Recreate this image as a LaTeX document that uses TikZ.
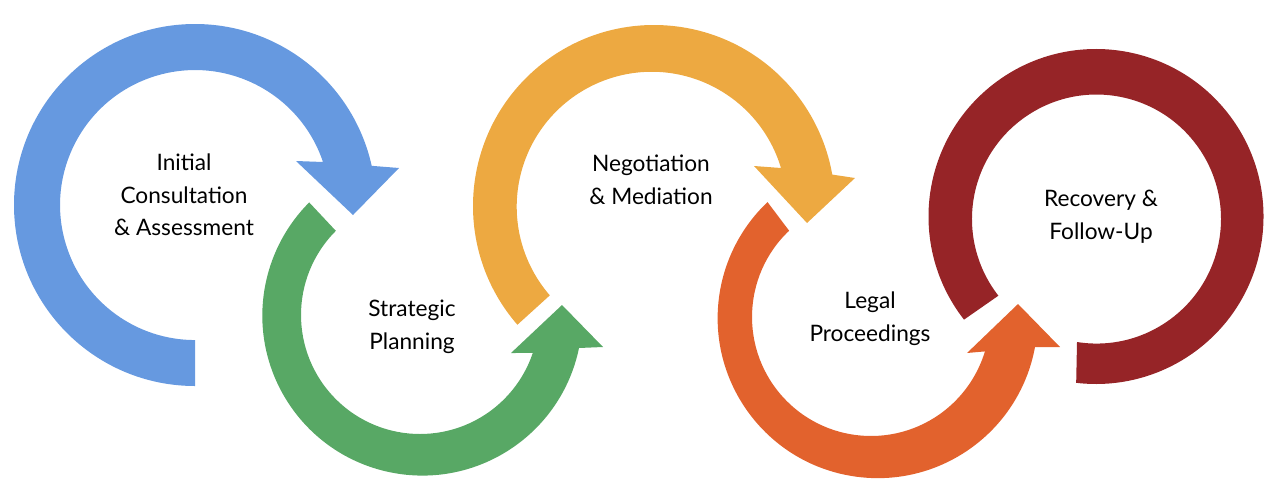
\documentclass[tikz,border=0pt]{standalone}
\usepackage{fontspec}
\setmainfont{Lato}
\definecolor{cblue}{RGB}{102,153,224}
\definecolor{cgreen}{RGB}{88,168,101}
\definecolor{corange}{RGB}{237,169,65}
\definecolor{cred}{RGB}{226,98,45}
\definecolor{cdark}{RGB}{150,36,39}
\begin{document}
\begin{tikzpicture}[x=0.75pt,y=-0.75pt,
  lbl/.style={align=center,font=\fontsize{17}{24.5}\selectfont,text=black}]
\useasboundingbox (0,0) rectangle (1280,497);
% blue
\fill[cblue] (195,205) ++(90:181) arc[start angle=90,end angle=347.5,radius=181]
  -- (399,168) -- (353,215) -- (296,161) -- (323,162)
  arc[start angle=341.4,end angle=90,radius=135] -- cycle;
% green
\fill[cgreen] (420,315) ++(225:119) arc[start angle=225,end angle=18.6,radius=119]
  -- (511,353) -- (562,305) -- (603,347) -- (579,348)
  arc[start angle=11.7,end angle=225,radius=160] -- cycle;
% orange
\fill[corange] (654,206) ++(139:181) arc[start angle=139,end angle=350,radius=181]
  -- (855,178) -- (807,223) -- (754,166) -- (781,168)
  arc[start angle=343.3,end angle=139,radius=135] -- cycle;
% red-orange
\fill[cred] (871,317) ++(226.5:119) arc[start angle=226.5,end angle=16.8,radius=119]
  -- (967,353) -- (1018,304) -- (1060,347) -- (1035,347)
  arc[start angle=10.4,end angle=226.5,radius=160] -- cycle;
% dark red
\fill[cdark] (1096,216.5) ++(142:167.5) arc[start angle=142,end angle=456.8,radius=167.5]
  -- (1077,342) arc[start angle=459,end angle=142,radius=124.5] -- cycle;
\node[lbl] (n1) at (184,195) {Initial\\Consultation\\\& Assessment};
\node[lbl] (n2) at (412,327) {Strategic\\Planning};
\node[lbl] (n3) at (651,180) {Negotiation\\\& Mediation};
\node[lbl] (n4) at (870,319) {Legal\\Proceedings};
\node[lbl] (n5) at (1101,217) {Recovery \&\\Follow-Up};
\end{tikzpicture}
\end{document}
